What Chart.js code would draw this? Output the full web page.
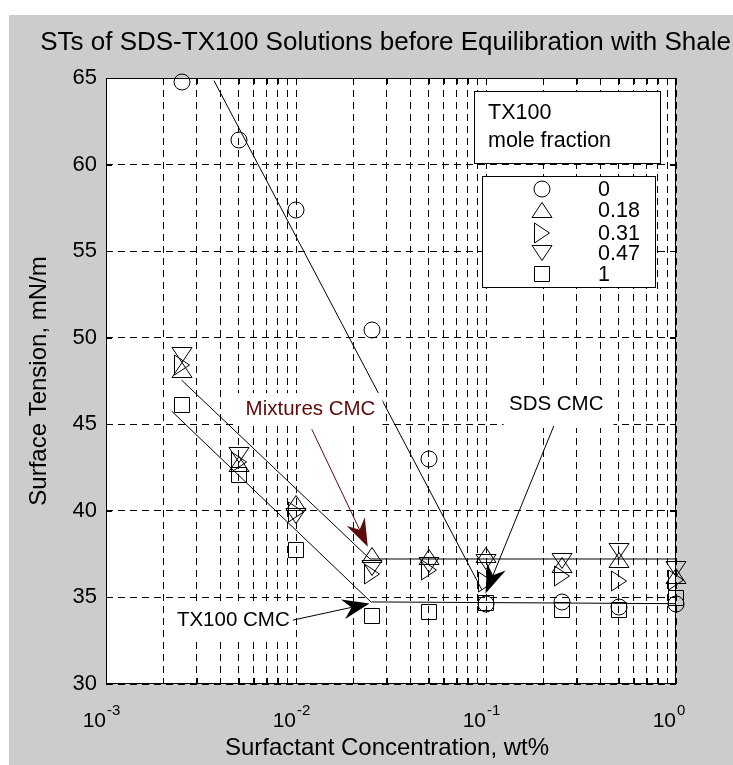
<!DOCTYPE html>
<html><head><meta charset="utf-8">
<script src="https://cdn.jsdelivr.net/npm/chart.js@4.4.0/dist/chart.umd.min.js"></script>
<style>html,body{margin:0;padding:0;background:#fff;}canvas{display:block;}</style>
</head><body>
<canvas id="c" width="733" height="765"></canvas>
<script>
// ---------------- data ----------------
const concentrations = [0.0025, 0.005, 0.01, 0.025, 0.05, 0.1, 0.25, 0.5, 1];
const st_x000 = [64.75, 61.40, 57.35, 50.45, 43.00, 34.60, 34.75, 34.45, 34.60];
const st_x018 = [48.15, 42.70, 40.45, 37.45, 37.35, 37.45, 36.85, 37.15, 36.25];
const st_x031 = [48.45, 42.85, 39.95, 36.35, 36.60, 35.90, 36.25, 35.95, 36.00];
const st_x047 = [49.00, 43.20, 39.70, 36.70, 36.90, 37.05, 37.10, 37.70, 36.65];
const st_x100 = [46.10, 42.05, 37.75, 33.95, 34.15, 34.70, 34.25, 34.30, 34.95];
const moleFractions = ['0', '0.18', '0.31', '0.47', '1'];

// fitted lines (x, y end points)
const fitSDS_x = [0.0037, 0.095];   const fitSDS_y = [64.85, 35.45];
const fitMixA_x = [0.0025, 0.0245]; const fitMixA_y = [47.55, 37.22];
const fitMixB_x = [0.00222, 0.0249]; const fitMixB_y = [45.75, 34.72];
const cmcMix_x = [0.0245, 1];       const cmcMix_y = [37.22, 37.22];
const cmcTX_x = [0.0249, 1];        const cmcTX_y = [34.74, 34.64];

// axes
const yTicks = [30, 35, 40, 45, 50, 55, 60, 65];
const xMajorTicks = [0.001, 0.01, 0.1, 1];
const xTickExponents = ['-3', '-2', '-1', '0'];
const xMinorMultipliers = [2, 3, 4, 5, 6, 7, 8, 9];

// annotations (data coordinates)
const annMixText = {x: 0.01192, y: 45.88, box: [0.00486, 0.02853, 46.80, 44.90]};
const annMixArrow = [0.01211, 44.71, 0.02387, 37.92];
const annSDSText = {x: 0.2342, y: 46.13, box: [0.1237, 0.469, 46.98, 44.78]};
const annSDSArrow = [0.2274, 44.90, 0.0994, 35.22];
const annTXText = {x: 0.004677, y: 33.69, box: [0.002107, 0.009469, 34.67, 32.70]};
const annTXArrow = [0.00962, 33.69, 0.02436, 34.65];

const FONT = '"Liberation Sans", Arial, Helvetica, sans-serif';
const MAROON = '#5c0a0a';

// ---------------- markers ----------------
function mk(draw) {
  const c = document.createElement('canvas'); c.width = 24; c.height = 24;
  const g = c.getContext('2d'); g.strokeStyle = '#000'; g.lineWidth = 1;
  g.beginPath(); draw(g); g.stroke(); return c;
}
const M = {
  circle: mk(g => g.arc(12, 12, 8, 0, Math.PI * 2)),
  up: mk(g => { g.moveTo(12, 4.5); g.lineTo(22, 19.5); g.lineTo(2, 19.5); g.closePath(); }),
  right: mk(g => { g.moveTo(4.5, 2); g.lineTo(19.5, 12); g.lineTo(4.5, 22); g.closePath(); }),
  down: mk(g => { g.moveTo(2, 4.5); g.lineTo(22, 4.5); g.lineTo(12, 19.5); g.closePath(); }),
  square: mk(g => g.rect(4.5, 4.5, 15, 15))
};
const seriesStyles = [M.circle, M.up, M.right, M.down, M.square];
const seriesValues = [st_x000, st_x018, st_x031, st_x047, st_x100];

function pts(xs, ys) { return xs.map((x, i) => ({x: x, y: ys[i]})); }
function lineDS(xs, ys) {
  return {data: pts(xs, ys), showLine: true, borderColor: '#000', borderWidth: 1,
          pointRadius: 0, fill: false};
}
const datasets = [
  lineDS(fitSDS_x, fitSDS_y), lineDS(fitMixA_x, fitMixA_y), lineDS(fitMixB_x, fitMixB_y),
  lineDS(cmcMix_x, cmcMix_y), lineDS(cmcTX_x, cmcTX_y)
];
seriesValues.forEach((vals, k) => {
  datasets.push({label: moleFractions[k], data: pts(concentrations, vals), showLine: false,
    pointStyle: seriesStyles[k], pointRadius: 10, isMarker: true, clip: false});
});

const xTickValues = [];
for (let d = 0; d < 3; d++) {
  xTickValues.push(xMajorTicks[d]);
  xMinorMultipliers.forEach(m => xTickValues.push(m * xMajorTicks[d]));
}
xTickValues.push(xMajorTicks[3]);

// ---------------- plugins ----------------
const bgPlugin = {
  id: 'bg',
  beforeDraw(chart) {
    const ctx = chart.ctx, a = chart.chartArea;
    ctx.save();
    ctx.fillStyle = '#ffffff'; ctx.fillRect(0, 0, chart.width, chart.height);
    ctx.fillStyle = '#cccccc'; ctx.fillRect(9, 15, chart.width - 9, chart.height - 15);
    ctx.fillStyle = '#ffffff'; ctx.fillRect(a.left, a.top, a.right - a.left, a.bottom - a.top);
    ctx.restore();
  }
};
const snapPlugin = {
  id: 'snap',
  afterDatasetsUpdate(chart) {
    chart.data.datasets.forEach((ds, i) => {
      if (!ds.isMarker) return;
      chart.getDatasetMeta(i).data.forEach(el => { el.x = Math.round(el.x); el.y = Math.round(el.y); });
    });
  }
};

function text(ctx, s, x, y, size, align, color, base) {
  ctx.font = size + 'px ' + FONT; ctx.fillStyle = color || '#000';
  ctx.textAlign = align || 'left'; ctx.textBaseline = base || 'middle';
  ctx.fillText(s, x, y);
}
function arrow(ctx, x1, y1, x2, y2, color, L, W) {
  const dx = x2 - x1, dy = y2 - y1, len = Math.hypot(dx, dy);
  const ux = dx / len, uy = dy / len, nx = -uy, ny = ux;
  const bx = x2 - ux * L, by = y2 - uy * L;
  const qx = x2 - ux * L * 0.68, qy = y2 - uy * L * 0.68;
  ctx.strokeStyle = color; ctx.lineWidth = 1;
  ctx.beginPath(); ctx.moveTo(x1, y1); ctx.lineTo(qx, qy); ctx.stroke();
  ctx.fillStyle = color;
  ctx.beginPath(); ctx.moveTo(x2, y2);
  ctx.lineTo(bx + nx * W / 2, by + ny * W / 2); ctx.lineTo(qx, qy);
  ctx.lineTo(bx - nx * W / 2, by - ny * W / 2); ctx.closePath(); ctx.fill();
}

const overlayPlugin = {
  id: 'overlay',
  afterDraw(chart) {
    const ctx = chart.ctx, a = chart.chartArea;
    const xs = chart.scales.x, ys = chart.scales.y;
    const X = v => xs.getPixelForValue(v), Y = v => ys.getPixelForValue(v);
    ctx.save();
    // inner tick marks
    ctx.strokeStyle = '#000'; ctx.lineWidth = 1; ctx.beginPath();
    xTickValues.forEach(v => {
      const px = Math.round(X(v)) + 0.5;
      ctx.moveTo(px, a.bottom); ctx.lineTo(px, a.bottom - 6);
      ctx.moveTo(px, a.top); ctx.lineTo(px, a.top + 6);
    });
    yTicks.forEach(v => {
      const py = Math.round(Y(v)) + 0.5;
      ctx.moveTo(a.left, py); ctx.lineTo(a.left + 6, py);
      ctx.moveTo(a.right, py); ctx.lineTo(a.right - 6, py);
    });
    ctx.stroke();
    // axes box
    ctx.strokeRect(Math.round(a.left) + 0.5, Math.round(a.top) + 0.5,
                   Math.round(a.right - a.left) - 1, Math.round(a.bottom - a.top) - 1);

    // annotation text boxes
    [[annMixText, 'Mixtures CMC', MAROON], [annSDSText, 'SDS CMC', '#000'], [annTXText, 'TX100 CMC', '#000']]
      .forEach(([t, s, col]) => {
        const b = t.box;
        ctx.fillStyle = '#fff';
        ctx.fillRect(X(b[0]), Y(b[2]), X(b[1]) - X(b[0]), Y(b[3]) - Y(b[2]));
        text(ctx, s, X(t.x), Y(t.y), 20.5, 'center', col);
      });
    arrow(ctx, X(annMixArrow[0]), Y(annMixArrow[1]), X(annMixArrow[2]), Y(annMixArrow[3]), MAROON, 28, 20);
    arrow(ctx, X(annSDSArrow[0]), Y(annSDSArrow[1]), X(annSDSArrow[2]), Y(annSDSArrow[3]), '#000', 29, 20);
    arrow(ctx, X(annTXArrow[0]), Y(annTXArrow[1]), X(annTXArrow[2]), Y(annTXArrow[3]), '#000', 27, 20);

    // legend
    const L0 = a.left, T0 = a.top;
    ctx.fillStyle = '#fff'; ctx.strokeStyle = '#000'; ctx.lineWidth = 1;
    ctx.fillRect(L0 + 368, T0 + 13, 187, 73);
    ctx.strokeRect(L0 + 368.5, T0 + 13.5, 186, 72);
    text(ctx, 'TX100', L0 + 382, T0 + 35, 21.5);
    text(ctx, 'mole fraction', L0 + 382, T0 + 63, 21.5);
    ctx.fillStyle = '#fff';
    ctx.fillRect(L0 + 376, T0 + 98, 174, 112);
    ctx.strokeRect(L0 + 376.5, T0 + 98.5, 173, 111);
    const rows = [111, 132, 155, 175, 196];
    seriesStyles.forEach((img, k) => {
      ctx.drawImage(img, Math.round(L0 + 436) - 12, Math.round(T0 + rows[k]) - 12);
      text(ctx, moleFractions[k], L0 + 492, T0 + rows[k] + 1, 21.5);
    });

    // x tick labels 10^n
    xMajorTicks.forEach((v, i) => {
      const px = X(v);
      text(ctx, '10', px, 721, 21, 'right');
      text(ctx, xTickExponents[i], px + 1, 711, 15, 'left');
    });
    // titles
    const cx = (a.left + a.right) / 2;
    const ttl = 'STs of SDS-TX100 Solutions before Equilibration with Shale';
    ctx.font = '26px ' + FONT;
    const tw = ctx.measureText(ttl).width;
    text(ctx, ttl, Math.min(cx, 731 - tw / 2), 50, 26, 'center', '#000', 'alphabetic');
    text(ctx, 'Surfactant Concentration, wt%', cx - 4, 755, 24, 'center', '#000', 'alphabetic');
    ctx.save();
    ctx.translate(46, (a.top + a.bottom) / 2); ctx.rotate(-Math.PI / 2);
    text(ctx, 'Surface Tension, mN/m', 0, 0, 24, 'center', '#000', 'alphabetic');
    ctx.restore();
    ctx.restore();
  }
};

new Chart(document.getElementById('c'), {
  type: 'scatter',
  data: {datasets: datasets},
  options: {
    responsive: false, animation: false, devicePixelRatio: 1,
    layout: {padding: {top: 78, right: 57, bottom: 0, left: 0}},
    plugins: {legend: {display: false}, tooltip: {enabled: false}, title: {display: false}},
    events: [],
    scales: {
      x: {
        type: 'logarithmic', min: 0.001, max: 1,
        afterBuildTicks: s => { s.ticks = xTickValues.map(v => ({value: v})); },
        afterFit: s => { s.height = 81; },
        ticks: {display: false, autoSkip: false},
        grid: {color: '#000', lineWidth: 1, drawTicks: false},
        border: {display: false, dash: [7, 5]}
      },
      y: {
        type: 'linear', min: 30, max: 65,
        afterBuildTicks: s => { s.ticks = yTicks.map(v => ({value: v})); },
        afterFit: s => { s.width = 106; },
        ticks: {color: '#000', font: {family: FONT, size: 22}, padding: 9},
        grid: {color: '#000', lineWidth: 1, drawTicks: false},
        border: {display: false, dash: [7, 5]}
      }
    }
  },
  plugins: [bgPlugin, snapPlugin, overlayPlugin]
});
</script>
</body></html>
